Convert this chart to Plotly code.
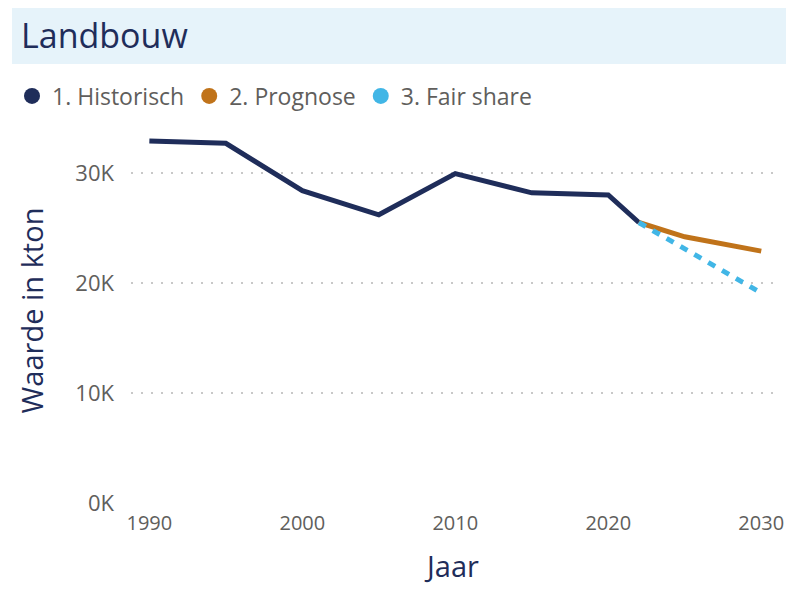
import plotly.graph_objects as go

# Data
hist_years = [1990, 1995, 2000, 2005, 2010, 2015, 2020, 2022]
hist_values = [32900, 32700, 28400, 26200, 29950, 28200, 28000, 25500]

prog_years = [2022, 2025, 2030]
prog_values = [25500, 24200, 22900]

fair_years = [2022, 2030]
fair_values = [25500, 19100]

y_ticks = [0, 10000, 20000, 30000]
y_tick_labels = ["0K", "10K", "20K", "30K"]
x_ticks = [1990, 2000, 2010, 2020, 2030]

series_names = ["1. Historisch", "2. Prognose", "3. Fair share"]
colors = ["#1F2D5A", "#C0731A", "#41B6E6"]

# The page body adds an 8px margin; lay out in reference pixels and compensate.
OFF = 8
W, H = 794 - OFF, 591 - OFF
ML, MR, MT, MB = 131 - OFF, 19, 118 - OFF, 88
PW = W - ML - MR
PH = H - MT - MB


def px(xp):
    return (xp - OFF - ML) / PW


def py(yp):
    return (H - MB - (yp - OFF)) / PH


fig = go.Figure()

fig.add_trace(go.Scatter(x=hist_years, y=hist_values, mode="lines",
                         line=dict(color=colors[0], width=5), showlegend=False,
                         name=series_names[0]))
fig.add_trace(go.Scatter(x=prog_years, y=prog_values, mode="lines",
                         line=dict(color=colors[1], width=5), showlegend=False,
                         name=series_names[1]))
fig.add_trace(go.Scatter(x=fair_years, y=fair_values, mode="lines",
                         line=dict(color=colors[2], width=5, dash="8px,8px"), showlegend=False,
                         name=series_names[2]))

# legend-only entries with circle markers
for name, c in zip(series_names, colors):
    fig.add_trace(go.Scatter(x=[None], y=[None], mode="markers",
                             marker=dict(color=c, size=18, symbol="circle"),
                             name=name, showlegend=True))

text_font = "Segoe UI, Open Sans, sans-serif"
tick_font = "Segoe UI, Open Sans, sans-serif"
grey = "#605E5C"
navy = "#1F2D5A"

fig.update_layout(
    width=W, height=H,
    margin=dict(l=ML, r=MR, t=MT, b=MB, autoexpand=False),
    paper_bgcolor="white", plot_bgcolor="white",
    font=dict(family=text_font, color=grey),
    showlegend=True,
    legend=dict(orientation="h", x=px(12), y=py(96), xanchor="left", yanchor="middle",
                font=dict(size=23, color=grey, family=text_font),
                itemwidth=30, tracegroupgap=0, bgcolor="rgba(0,0,0,0)"),
    xaxis=dict(range=[1988.8, 2030.9], tickvals=x_ticks, showgrid=False, zeroline=False,
               showline=False, ticks="", ticklabelstandoff=6,
               tickfont=dict(size=20, color=grey, family=tick_font),
               title=dict(text="Jaar", font=dict(size=29, color=navy, family=text_font),
                          standoff=21)),
    yaxis=dict(range=[0, 35000], tickvals=y_ticks, ticktext=y_tick_labels,
               showgrid=True, gridcolor="#C8C8C8", griddash="2px,8px", gridwidth=1.5,
               zeroline=False, showline=False, ticks="", ticklabelstandoff=16,
               tickfont=dict(size=22, color=grey, family=tick_font),
               title=dict(text="Waarde in kton", font=dict(size=29, color=navy, family=text_font),
                          standoff=23)),
    shapes=[dict(type="rect", xref="paper", yref="paper",
                 x0=px(12), x1=px(794), y0=py(64), y1=py(7),
                 fillcolor="#E6F3FA", line=dict(width=0), layer="below")],
    annotations=[dict(text="Landbouw", xref="paper", yref="paper",
                      x=px(19), y=py(35), xanchor="left", yanchor="middle",
                      showarrow=False,
                      font=dict(size=34, color=navy, family=text_font))],
)

fig.write_html("out.html")
